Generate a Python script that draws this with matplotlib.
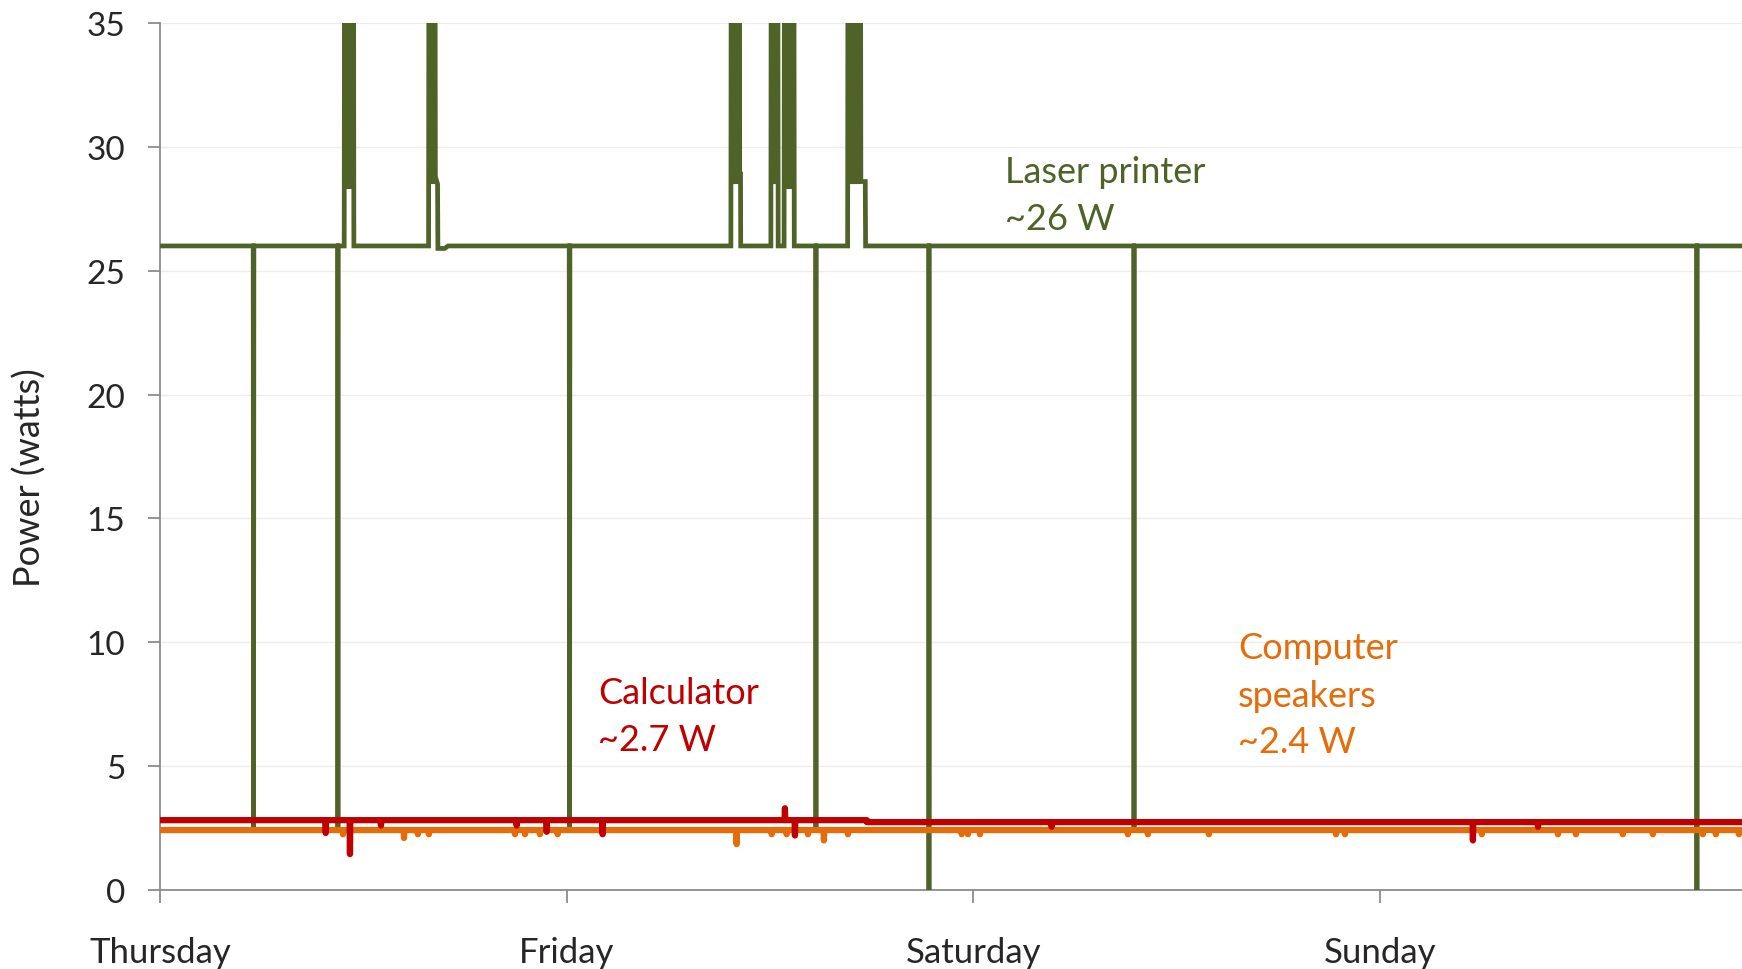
import matplotlib
matplotlib.use("Agg")
import matplotlib.pyplot as plt

# ---------------- data (hours since Thursday 00:00, watts) ----------------
day_labels = ["Thursday", "Friday", "Saturday", "Sunday"]
day_hours = [0, 24, 48, 72]
y_ticks = [0, 5, 10, 15, 20, 25, 30, 35]

# Laser printer: explicit trace points (values above 35 are clipped spikes)
printer_hours = [
    0.00, 5.50, 5.52, 5.54, 10.48, 10.50, 10.52,
    10.87, 10.89, 10.96, 11.03, 11.10, 11.17, 11.24, 11.31, 11.38, 11.42, 11.44,
    15.85, 15.87, 15.94, 16.01, 16.08, 16.16, 16.23, 16.25, 16.38, 16.40, 16.80, 17.00,
    24.15, 24.17, 24.19,
    33.69, 33.71, 33.78, 33.85, 33.92, 33.99, 34.06, 34.13, 34.20, 34.21, 34.26, 34.27,
    36.05, 36.07, 36.14, 36.21, 36.28, 36.35, 36.42, 36.46, 36.48,
    36.83, 36.85, 36.92, 36.99, 37.06, 37.13, 37.20, 37.27, 37.34, 37.41, 37.43,
    38.69, 38.71, 38.73,
    40.58, 40.60, 40.67, 40.74, 40.81, 40.88, 40.95, 41.02, 41.09, 41.16, 41.23, 41.30,
    41.34, 41.36, 41.62, 41.64,
    45.36, 45.38, 45.40, 57.46, 57.48, 57.50, 90.68, 90.70, 90.72, 93.40,
]
printer_watts = [
    26.0, 26.0, 2.5, 26.0, 26.0, 2.5, 26.0,
    26.0, 40.0, 28.3, 40.0, 28.3, 40.0, 28.3, 40.0, 40.0, 40.0, 26.0,
    26.0, 40.0, 28.5, 40.0, 28.5, 40.0, 40.0, 28.8, 28.5, 25.9, 25.9, 26.0,
    26.0, 2.5, 26.0,
    26.0, 40.0, 28.5, 40.0, 28.5, 40.0, 28.5, 40.0, 40.0, 28.9, 28.9, 26.0,
    26.0, 40.0, 28.5, 40.0, 28.5, 40.0, 28.5, 40.0, 26.0,
    26.0, 40.0, 28.3, 40.0, 28.3, 40.0, 28.3, 40.0, 28.3, 40.0, 26.0,
    26.0, 2.5, 26.0,
    26.0, 40.0, 28.5, 40.0, 28.5, 40.0, 28.5, 40.0, 28.5, 40.0, 28.5, 40.0,
    40.0, 28.6, 28.6, 26.0,
    26.0, 0.0, 26.0, 26.0, 2.5, 26.0, 26.0, 0.0, 26.0, 26.0,
]

# Calculator: baseline levels and short glitches
calc_level_hours = [0.0, 41.72, 93.4]
calc_level_watts = [2.82, 2.74, 2.74]
calc_spike_hours = [9.78, 11.21, 13.04, 21.05, 22.82, 26.12, 36.88, 37.47, 52.62, 77.48, 81.32]
calc_spike_watts = [2.30, 1.45, 2.60, 2.60, 2.35, 2.25, 3.30, 2.20, 2.55, 2.00, 2.55]

# Computer speakers: baseline and short dips
spk_level_hours = [0.0, 93.4]
spk_level_watts = [2.42, 2.42]
spk_spike_hours = [10.80, 14.40, 15.22, 15.87, 20.95, 21.54, 22.42, 23.47, 34.03, 36.10,
                   36.98, 38.24, 39.18, 40.60, 47.31, 47.68, 48.39, 57.12, 58.30, 61.90,
                   69.40, 69.93, 78.01, 82.50, 83.56, 86.33, 88.10, 91.05, 91.82, 93.18]
spk_spike_watts = [2.25, 2.10, 2.25, 2.25, 2.25, 2.25, 2.25, 2.25, 1.85, 2.25,
                   2.25, 2.25, 2.00, 2.25, 2.25, 2.25, 2.25, 2.25, 2.25, 2.25,
                   2.25, 2.25, 2.25, 2.25, 2.25, 2.25, 2.25, 2.25, 2.25, 2.25]


def build_trace(level_h, level_w, spike_h, spike_w, eps=0.02):
    """Step baseline with short glitches inserted at the listed times."""
    def base_at(t):
        val = level_w[0]
        for h, w in zip(level_h, level_w):
            if t >= h:
                val = w
        return val
    pts = []
    for i, (h, w) in enumerate(zip(level_h, level_w)):
        if i > 0:
            pts.append((h - 1e-3, level_w[i - 1]))
        pts.append((h, w))
    for h, w in zip(spike_h, spike_w):
        b = base_at(h)
        pts += [(h - eps, b), (h, w), (h + eps, b)]
    pts.sort(key=lambda p: p[0])
    return [p[0] for p in pts], [p[1] for p in pts]


calc_t, calc_w = build_trace(calc_level_hours, calc_level_watts, calc_spike_hours, calc_spike_watts)
spk_t, spk_w = build_trace(spk_level_hours, spk_level_watts, spk_spike_hours, spk_spike_watts)

# ---------------- figure ----------------
GREEN = "#4F6228"
RED = "#C00000"
ORANGE = "#E46C0A"
FONT = "Lato"
TXT = "#262626"

fig = plt.figure(figsize=(17.42, 9.70), dpi=100)
fig.patch.set_facecolor("white")
ax = fig.add_axes([160 / 1742, 1 - 891 / 970, 1 - 160 / 1742, (891 - 24) / 970])

ax.plot(printer_hours, printer_watts, color=GREEN, lw=3.4, zorder=3, solid_joinstyle="miter")
ax.plot(spk_t, spk_w, color=ORANGE, lw=4.5, zorder=4)
ax.plot(calc_t, calc_w, color=RED, lw=4.5, zorder=5)

ax.set_xlim(0, 93.36)
ax.set_ylim(0, 35)
ax.set_yticks(y_ticks)
ax.set_xticks(day_hours)
ax.set_xticklabels(day_labels)
ax.grid(axis="y", color="#EDEDED", lw=1.0)
ax.set_axisbelow(True)

for s in ["top", "right"]:
    ax.spines[s].set_visible(False)
for s in ["left", "bottom"]:
    ax.spines[s].set_color("#8C8C8C")
    ax.spines[s].set_linewidth(1.3)

ax.tick_params(axis="y", direction="out", length=9, width=1.3, color="#8C8C8C",
               pad=16, labelsize=24, labelcolor=TXT)
ax.tick_params(axis="x", direction="out", length=9, width=1.3, color="#8C8C8C",
               pad=24, labelsize=25, labelcolor=TXT)
for lab in ax.get_xticklabels() + ax.get_yticklabels():
    lab.set_fontfamily(FONT)

fig.text(30 / 1742, 1 - 478 / 970, "Power (watts)", rotation=90, ha="center", va="center",
         fontsize=26, color=TXT, fontfamily=FONT)

# annotations
AFS = 26
ax.text(49.86, 28.59, "Laser printer", color=GREEN, fontsize=AFS, fontfamily=FONT, va="baseline")
ax.text(49.86, 26.69, "~26 W", color=GREEN, fontsize=AFS, fontfamily=FONT, va="baseline")
ax.text(25.85, 7.54, "Calculator", color=RED, fontsize=AFS, fontfamily=FONT, va="baseline")
ax.text(25.85, 5.65, "~2.7 W", color=RED, fontsize=AFS, fontfamily=FONT, va="baseline")
ax.text(63.61, 9.35, "Computer", color=ORANGE, fontsize=AFS, fontfamily=FONT, va="baseline")
ax.text(63.61, 7.42, "speakers", color=ORANGE, fontsize=AFS, fontfamily=FONT, va="baseline")
ax.text(63.61, 5.56, "~2.4 W", color=ORANGE, fontsize=AFS, fontfamily=FONT, va="baseline")

fig.savefig("out.png", dpi=100)
